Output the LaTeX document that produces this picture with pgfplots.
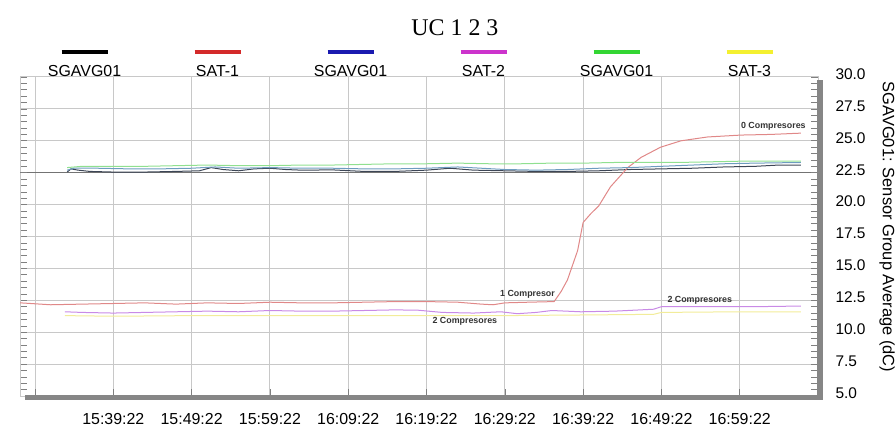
\documentclass[border=0pt]{standalone}
\usepackage{fontspec}
\setmainfont{Liberation Sans}
\newfontfamily\seriffont{Liberation Serif}
\usepackage{pgfplots}
\pgfplotsset{compat=1.18}
\definecolor{gridc}{HTML}{C8C8C8}
\definecolor{barc}{HTML}{868686}
\definecolor{cdark}{HTML}{3D4656}
\definecolor{cblue}{HTML}{6E9CC0}
\definecolor{cgreen}{HTML}{90E090}
\definecolor{cred}{HTML}{E08888}
\definecolor{cmag}{HTML}{C98AE6}
\definecolor{cyel}{HTML}{F2EC9A}
\definecolor{lblack}{HTML}{000000}
\definecolor{lred}{HTML}{D42A2A}
\definecolor{lblue}{HTML}{1A1AB0}
\definecolor{lmag}{HTML}{CC33CC}
\definecolor{lgreen}{HTML}{33D633}
\definecolor{lyel}{HTML}{F4F030}
\newcommand{\legbar}[2]{\parbox{133bp}{\centering{\color{#1}\rule{46bp}{4.5bp}}\\[3bp]#2}}
\begin{document}
\begin{tikzpicture}
\begin{axis}[name=ax, scale only axis, width=798bp, height=319bp,
  clip=false,
  xmin=-1.92, xmax=100, ymin=5, ymax=30,
  xtick={0,10,20,30,40,50,60,70,80,90},
  xticklabels={,15:39:22,15:49:22,15:59:22,16:09:22,16:19:22,16:29:22,16:39:22,16:49:22,16:59:22},
  ytick={5,7.5,10,12.5,15,17.5,20,22.5,25,27.5,30},
  grid=major, major grid style={gridc, line width=1bp},
  axis line style={gridc, line width=1bp},
  tick align=inside, xtick pos=bottom, ytick pos=both,
  minor y tick num=4, minor tick length=7bp, major tick length=7bp,
  tick style={gray, line width=0.6bp},
  yticklabel pos=right,
  yticklabel style={font=\fontsize{15.5}{18}\selectfont, anchor=west, xshift=14bp, yshift=3bp,
    /pgf/number format/.cd, fixed, fixed zerofill, precision=1, assume math mode=true},
  xticklabel style={font=\fontsize{16}{19}\selectfont, yshift=-13.5bp},
  ylabel={SGAVG01: Sensor Group Average (dC)},
  ylabel style={font=\fontsize{16.5}{19}\selectfont, at={(rel axis cs:1,0.53)}, anchor=center, rotate=180, yshift=69bp},
  extra y ticks={22.5}, extra y tick labels={}, extra y tick style={major grid style={black!55, line width=0.8bp}},
  legend columns=6,
  legend image code/.code={},
  legend style={draw=none, fill=none, at={(rel axis cs:0.4975,1)}, anchor=south, yshift=8bp,
    font=\fontsize{16}{19}\selectfont, inner sep=0pt, nodes={inner sep=0pt},
    /tikz/every even column/.append style={column sep=0pt}},
]
\addplot[cdark, line width=1bp] coordinates {(4.1,22.55)(4.6,22.8)(5.5,22.7)(7,22.6)(10,22.55)(14,22.55)(18,22.6)(21,22.65)(22.5,22.9)(24,22.75)(26,22.65)(28,22.8)(30,22.85)(32,22.75)(34,22.7)(38,22.72)(42,22.6)(46,22.6)(50,22.7)(53,22.85)(56,22.7)(60,22.65)(64,22.6)(68,22.6)(72,22.65)(76,22.75)(80,22.8)(84,22.85)(88,22.95)(92,23.0)(95,23.1)(97.8,23.1)};
\addlegendentry{\legbar{lblack}{SGAVG01}}
\addplot[cred, line width=1bp] coordinates {(-1.9,12.3)(2,12.15)(6,12.2)(10,12.25)(14,12.3)(18,12.2)(22,12.3)(26,12.25)(30,12.35)(34,12.3)(38,12.3)(42,12.35)(46,12.4)(50,12.4)(54,12.35)(57,12.2)(58.5,12.15)(60,12.3)(63,12.35)(66.3,12.4)(67.2,13.2)(68,14.1)(69.3,16.4)(70,18.6)(71,19.3)(72,19.9)(73.5,21.4)(75.7,22.9)(77.4,23.7)(79.9,24.5)(82.5,25.0)(85.9,25.3)(90.2,25.45)(94,25.5)(97.8,25.6)};
\addlegendentry{\legbar{lred}{SAT-1}}
\addplot[cblue, line width=1bp] coordinates {(4.1,22.7)(5,22.85)(8,22.85)(12,22.8)(16,22.8)(20,22.85)(23,22.95)(26,22.85)(30,22.9)(34,22.85)(38,22.85)(42,22.8)(46,22.8)(50,22.85)(54,22.95)(57,22.85)(60,22.75)(64,22.7)(68,22.75)(72,22.85)(76,22.9)(80,23.0)(84,23.1)(88,23.2)(92,23.25)(97.8,23.3)};
\addlegendentry{\legbar{lblue}{SGAVG01}}
\addplot[cmag, line width=1bp] coordinates {(3.8,11.6)(6,11.55)(10,11.5)(14,11.55)(18,11.6)(22,11.65)(26,11.6)(30,11.7)(34,11.65)(38,11.65)(42,11.7)(46,11.75)(49,11.72)(52,11.55)(56,11.5)(59.5,11.6)(61.6,11.45)(64,11.55)(66,11.7)(69.7,11.6)(74,11.65)(79,11.8)(80,12.0)(84,12.0)(88,12.0)(92,12.0)(97.8,12.05)};
\addlegendentry{\legbar{lmag}{SAT-2}}
\addplot[cgreen, line width=1bp] coordinates {(4.1,22.9)(6,23.0)(10,23.0)(14,23.0)(18,23.05)(22,23.1)(26,23.05)(30,23.05)(34,23.1)(38,23.1)(42,23.15)(46,23.2)(50,23.2)(54,23.25)(58,23.2)(62,23.2)(66,23.25)(70,23.25)(74,23.3)(78,23.3)(82,23.3)(86,23.35)(90,23.4)(94,23.4)(97.8,23.4)};
\addlegendentry{\legbar{lgreen}{SGAVG01}}
\addplot[cyel, line width=1bp] coordinates {(3.8,11.3)(10,11.25)(20,11.3)(30,11.3)(40,11.3)(50,11.3)(60,11.3)(70,11.35)(79,11.4)(80,11.55)(90,11.6)(97.8,11.6)};
\addlegendentry{\legbar{lyel}{SAT-3}}
\node[font=\bfseries\fontsize{8.9}{10}\selectfont, text=black!80] at (axis cs:62.9,12.97) {1 Compresor};
\node[font=\bfseries\fontsize{8.9}{10}\selectfont, text=black!80] at (axis cs:54.9,10.82) {2 Compresores};
\node[font=\bfseries\fontsize{8.9}{10}\selectfont, text=black!80] at (axis cs:84.9,12.47) {2 Compresores};
\node[font=\bfseries\fontsize{8.9}{10}\selectfont, text=black!80] at (axis cs:94.3,26.16) {0 Compresores};
\fill[barc] ([xshift=5bp,yshift=-4bp]rel axis cs:0,0) rectangle ([xshift=5bp,yshift=1bp]rel axis cs:1,0);
\fill[barc] ([xshift=-1bp,yshift=-4bp]rel axis cs:1,0) rectangle ([xshift=5bp,yshift=-3bp]rel axis cs:1,1);
\node[font=\seriffont\fontsize{24}{28}\selectfont] at ([yshift=49bp]rel axis cs:0.545,1) {UC 1 2 3};
\end{axis}
\pgfresetboundingbox
\path ([shift={(-20bp,-32bp)}]ax.south west) rectangle ([shift={(78bp,77bp)}]ax.north east);
\end{tikzpicture}
\end{document}
